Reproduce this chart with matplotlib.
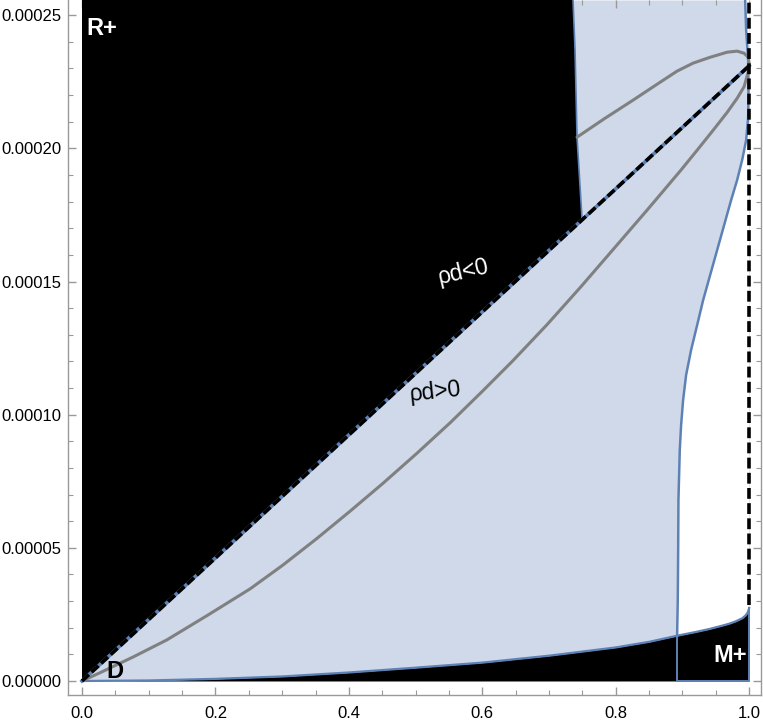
import numpy as np
import matplotlib
matplotlib.use("Agg")
import matplotlib.pyplot as plt
from matplotlib.ticker import MultipleLocator

plt.rcParams['font.family'] = ['Liberation Sans', 'DejaVu Sans']

# ---- data ----
y_top = 2.557e-4
diag_end = 2.31e-4          # diagonal ends at (1, diag_end)

# lower boundary curve (bottom black region)
bot_x = [0.0, 0.1, 0.2, 0.3, 0.4, 0.5, 0.6, 0.7, 0.8, 0.85, 0.892, 0.92, 0.94, 0.96,
         0.97, 0.98, 0.99, 0.995, 0.998, 1.0]
bot_y = [0.0, 0.02e-5, 0.08e-5, 0.17e-5, 0.32e-5, 0.5e-5, 0.69e-5, 0.95e-5, 1.26e-5,
         1.47e-5, 1.70e-5, 1.84e-5, 1.95e-5, 2.08e-5, 2.15e-5, 2.24e-5, 2.36e-5,
         2.47e-5, 2.58e-5, 2.74e-5]

# left boundary of upper-right light region
lb_x = [0.736, 0.739, 0.742, 0.7496]
lb_y = [2.557e-4, 2.369e-4, 2.042e-4, 1.7316e-4]

# right boundary (white region)
rb_x = [0.994, 0.9955, 0.9985, 0.999, 0.9985, 0.9955, 0.9895, 0.982, 0.973, 0.9625,
        0.952, 0.9415, 0.931, 0.922, 0.913, 0.9055, 0.901, 0.898, 0.896, 0.894,
        0.8936, 0.893, 0.892]
rb_y = [25.57e-5, 24.44e-5, 23.31e-5, 22.19e-5, 21.17e-5, 20.31e-5, 19.56e-5, 18.81e-5,
        18.06e-5, 17.12e-5, 16.18e-5, 15.24e-5, 14.30e-5, 13.36e-5, 12.43e-5, 11.49e-5,
        10.55e-5, 9.61e-5, 8.67e-5, 6.79e-5, 4.92e-5, 3.04e-5, 1.70e-5]

# gray curve (lower branch then returning upper branch)
gr_x = [0.0, 0.027, 0.0765, 0.127, 0.189, 0.252, 0.301, 0.352, 0.402, 0.451, 0.502,
        0.552, 0.601, 0.646, 0.697, 0.747, 0.796, 0.847, 0.897, 0.922, 0.946, 0.967,
        0.982, 0.9925, 0.9985, 1.0,
        0.9985, 0.9925, 0.982, 0.967, 0.9415, 0.916, 0.892, 0.867, 0.826, 0.784, 0.742]
gr_y = [0.0, 0.31e-5, 0.9e-5, 1.54e-5, 2.48e-5, 3.46e-5, 4.35e-5, 5.35e-5, 6.38e-5,
        7.42e-5, 8.55e-5, 9.7e-5, 10.9e-5, 12.03e-5, 13.38e-5, 14.78e-5, 16.2e-5,
        17.68e-5, 19.16e-5, 19.93e-5, 20.68e-5, 21.35e-5, 21.88e-5, 22.32e-5, 22.86e-5,
        23.2e-5,
        23.42e-5, 23.57e-5, 23.65e-5, 23.61e-5, 23.42e-5, 23.2e-5, 22.9e-5, 22.49e-5,
        21.81e-5, 21.13e-5, 20.42e-5]

xticks = [0.0, 0.2, 0.4, 0.6, 0.8, 1.0]
xticklabels = ["0.0", "0.2", "0.4", "0.6", "0.8", "1.0"]
yticks = [0.0, 5e-5, 1e-4, 1.5e-4, 2e-4, 2.5e-4]
yticklabels = ["0.00000", "0.00005", "0.00010", "0.00015", "0.00020", "0.00025"]

# ---- styling ----
LIGHT = "#CFD9EA"
BLUE = "#5E81B5"
GRAY = "#808080"
FRAME = "#999999"

fig = plt.figure(figsize=(7.63, 7.21), dpi=100)
ax = fig.add_axes([68 / 763, 26 / 721, (760.5 - 68) / 763, 695 / 721])
ax.set_xlim(-0.021, 1.017)
ax.set_ylim(-5.26e-6, y_top)

bx = np.array(bot_x); by = np.array(bot_y)

# light blue base region
ax.fill_between(bx, by, y_top, color=LIGHT, lw=0, zorder=1)

# black upper-left region
poly_x = [0.0, lb_x[-1]] + lb_x[::-1] + [0.0]
poly_y = [0.0, diag_end * lb_x[-1]] + lb_y[::-1] + [y_top]
ax.fill(poly_x, poly_y, color="black", lw=0, zorder=2)

# white region
mask = bx >= 0.892
wx = list(rb_x) + list(bx[mask][1:]) + [1.0]
wy = list(rb_y) + list(by[mask][1:]) + [y_top]
ax.fill(wx, wy, color="white", lw=0, zorder=2)

# bottom black region
ax.fill_between(bx, 0, by, color="black", lw=0, zorder=3)

# blue boundary lines
ax.plot(bx, by, color=BLUE, lw=1.6, zorder=4)
ax.plot(rb_x, rb_y, color=BLUE, lw=1.8, zorder=4)
ax.plot(lb_x, lb_y, color=BLUE, lw=1.2, zorder=4)
ax.plot([0.892, 0.892, 1.0, 1.0], [bot_y[10], 0.0, 0.0, bot_y[-1]], color=BLUE, lw=1.4, zorder=4)

# gray curve
ax.plot(gr_x, gr_y, color=GRAY, lw=2.2, zorder=5, solid_capstyle='round',
        solid_joinstyle='round')

# diagonal: blue under black dashes
ax.plot([0, 1], [0, diag_end], color=BLUE, lw=2.6, zorder=6)
ax.plot([0, 1], [0, diag_end], color="black", lw=2.6, dashes=(2.6, 1.0), zorder=7)
# vertical dashed line at x=1
ax.plot([1, 1], [bot_y[-1] + 0.1e-5, y_top], color="black", lw=2.6, dashes=(3.0, 1.2), zorder=7)

# labels
ax.text(0.030, 2.451e-4, "R+", color="white", fontsize=17, fontweight="bold",
        ha="center", va="center", zorder=8)
ax.text(0.049, 0.34e-5, "D", color="black", fontsize=17, fontweight="bold",
        ha="center", va="center", zorder=8)
ax.text(0.971, 0.94e-5, "M+", color="white", fontsize=17, fontweight="bold",
        ha="center", va="center", zorder=8)
ax.text(0.572, 1.535e-4, "ρd<0", color="white", fontsize=16.5, rotation=13,
        ha="center", va="center", rotation_mode="anchor", zorder=8)
ax.text(0.529, 1.085e-4, "ρd>0", color="black", fontsize=16.5, rotation=6,
        ha="center", va="center", rotation_mode="anchor", zorder=8)

# frame and ticks
ax.set_xticks(xticks)
ax.set_xticklabels(xticklabels)
ax.set_yticks(yticks)
ax.set_yticklabels(yticklabels)
ax.xaxis.set_minor_locator(MultipleLocator(0.05))
ax.yaxis.set_minor_locator(MultipleLocator(1e-5))
ax.tick_params(which="both", direction="in", top=True, right=True, color=FRAME,
               labelsize=12, labelcolor="black")
ax.tick_params(which="major", length=6, width=1)
ax.tick_params(which="minor", length=3.5, width=0.8)
ax.tick_params(axis="x", pad=8)
ax.tick_params(axis="y", pad=5)
for s in ax.spines.values():
    s.set_color(FRAME)
    s.set_linewidth(1.0)
ax.spines["top"].set_visible(False)

fig.savefig("out.png", dpi=100)
